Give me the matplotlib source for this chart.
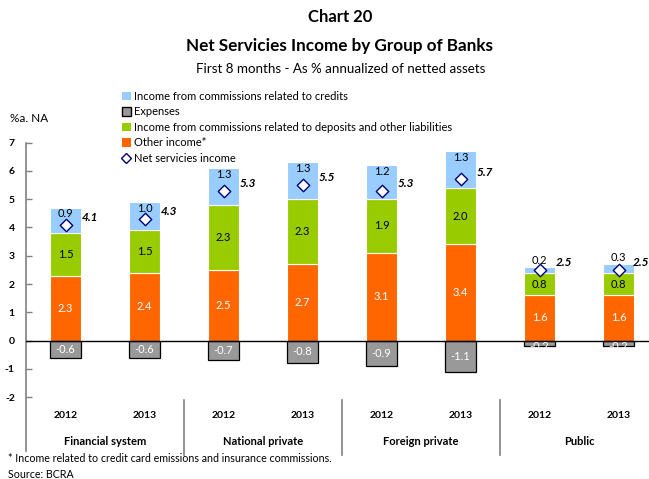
import matplotlib
matplotlib.use('Agg')
import matplotlib.pyplot as plt
from matplotlib.lines import Line2D
from matplotlib.patches import Patch
import numpy as np

plt.rcParams['font.family'] = ['Lato', 'DejaVu Sans']

groups = ['Financial system', 'National private', 'Foreign private', 'Public']
years = ['2012', '2013'] * 4
other_income = [2.3, 2.4, 2.5, 2.7, 3.1, 3.4, 1.6, 1.6]
deposits = [1.5, 1.5, 2.3, 2.3, 1.9, 2.0, 0.8, 0.8]
credits = [0.9, 1.0, 1.3, 1.3, 1.2, 1.3, 0.2, 0.3]
expenses = [-0.6, -0.6, -0.7, -0.8, -0.9, -1.1, -0.2, -0.2]
net_income = [4.1, 4.3, 5.3, 5.5, 5.3, 5.7, 2.5, 2.5]

c_credit = '#99CCFF'
c_dep = '#99CC00'
c_other = '#FF6600'
c_exp = '#999999'
c_net = '#000080'

W, H = 649, 479
fig = plt.figure(figsize=(W / 100, H / 100), dpi=100)

# axes placement in pixels
ax_left, ax_right = 26, 649
y_top_px, y_bot_px = 142.5, 451
ax = fig.add_axes([ax_left / W, 1 - y_bot_px / H, (ax_right - ax_left) / W, (y_bot_px - y_top_px) / H])

slot = 79.0
x = np.arange(len(years))
bw = 0.4
xmax = -0.5 + (ax_right - ax_left) / slot
ax.set_xlim(-0.5, xmax)
ax.set_ylim(-3.9, 7)

oth = np.array(other_income)
dep = np.array(deposits)
cre = np.array(credits)
ax.bar(x, oth, bw, color=c_other, edgecolor='white', linewidth=0.8, zorder=2)
ax.bar(x, dep, bw, bottom=oth, color=c_dep, edgecolor='white', linewidth=0.8, zorder=2)
ax.bar(x, cre, bw, bottom=oth + dep, color=c_credit, edgecolor='white', linewidth=0.8, zorder=2)
ax.bar(x, expenses, bw, color=c_exp, edgecolor='black', linewidth=0.9, zorder=2)
ax.scatter(x, net_income, marker='D', s=40, facecolor='white', edgecolor=c_net, linewidth=1.0, zorder=4)

ax.axhline(0, color='black', linewidth=1.0, zorder=3)

for i in range(len(x)):
    ax.text(x[i], oth[i] / 2, f'{oth[i]:.1f}', color='white', ha='center', va='center', fontsize=8, zorder=5)
    ax.text(x[i], oth[i] + dep[i] / 2, f'{dep[i]:.1f}', color='black', ha='center', va='center', fontsize=8, zorder=5)
    top = oth[i] + dep[i] + cre[i]
    if cre[i] < 0.5:
        ax.text(x[i], top + 0.05, f'{cre[i]:.1f}', color='black', ha='center', va='bottom', fontsize=8, zorder=5)
    else:
        ax.text(x[i], top - 0.02, f'{cre[i]:.1f}', color='black', ha='center', va='top', fontsize=8, zorder=5)
    ax.text(x[i], expenses[i] / 2 if expenses[i] < -0.4 else -0.2, f'{expenses[i]:.1f}', color='white',
            ha='center', va='center', fontsize=8, zorder=5)
    ax.text(min(x[i] + 0.2, xmax - 0.2), net_income[i] + 0.25, f'{net_income[i]:.1f}', color='black',
            ha='left', va='center', fontsize=8.5, fontweight='bold', style='italic', zorder=5)

# axis styling
for s in ['top', 'right', 'bottom']:
    ax.spines[s].set_visible(False)
ax.spines['left'].set_color('#808080')
ax.spines['left'].set_linewidth(1.2)
ax.set_yticks(range(-2, 8))
ax.set_yticklabels([str(v) for v in range(-2, 8)], fontsize=7.5, fontweight='bold')
ax.tick_params(axis='y', direction='in', length=4, color='#808080', width=1, pad=8)
ax.set_xticks([])

# category labels
for i in range(len(x)):
    ax.text(x[i], -2.66, years[i], ha='center', va='center', fontsize=7.5, fontweight='bold')
for g, name in enumerate(groups):
    ax.text(2 * g + 0.5, -3.55, name, ha='center', va='center', fontsize=8, fontweight='bold')
for d in [1.5, 3.5, 5.5]:
    ax.plot([d, d], [-2.1, -4.05], color='#808080', linewidth=1.2, clip_on=False)

# titles
fig.text(340 / W, 1 - 17 / H, 'Chart 20', ha='center', va='center', fontsize=12, fontweight='bold')
fig.text(340 / W, 1 - 46 / H, 'Net Servicies Income by Group of Banks', ha='center', va='center',
         fontsize=12.3, fontweight='bold')
fig.text(341 / W, 1 - 69 / H, 'First 8 months - As % annualized of netted assets', ha='center', va='center',
         fontsize=9.6)
fig.text(10 / W, 1 - 118 / H, '%a. NA', ha='left', va='center', fontsize=8.5)

# legend
handles = [
    Patch(facecolor=c_credit, edgecolor='none'),
    Patch(facecolor=c_exp, edgecolor='black'),
    Patch(facecolor=c_dep, edgecolor='none'),
    Patch(facecolor=c_other, edgecolor='none'),
    Line2D([], [], marker='D', linestyle='none', markersize=5, markerfacecolor='white',
           markeredgecolor=c_net),
]
labels = ['Income from commissions related to credits', 'Expenses',
          'Income from commissions related to deposits and other liabilities',
          'Other income*', 'Net servicies income']
fig.legend(handles, labels, loc='upper left', bbox_to_anchor=(122 / W, 1 - 91 / H), frameon=False,
           fontsize=8, handlelength=0.8, handleheight=0.8, handletextpad=0.3, labelspacing=0.4,
           borderaxespad=0, borderpad=0)

# footnotes
fig.text(8 / W, 1 - 458 / H, '* Income related to credit card emissions and insurance commissions.',
         ha='left', va='center', fontsize=7.7)
fig.text(8 / W, 1 - 475 / H, 'Source: BCRA', ha='left', va='center', fontsize=7.7)

fig.savefig('out.png', dpi=100)
